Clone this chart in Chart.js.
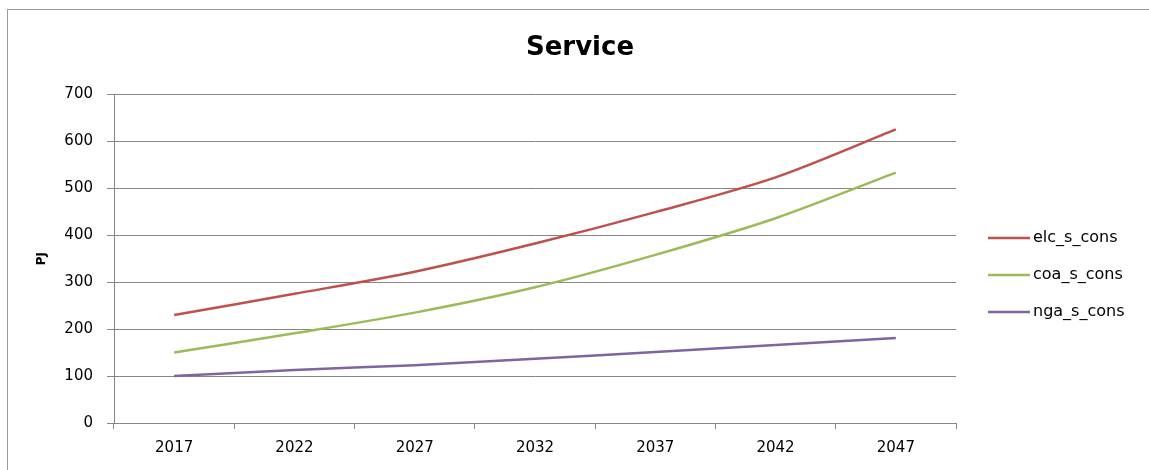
<!DOCTYPE html>
<html>
<head>
<meta charset="utf-8">
<title>Service</title>
<script src="https://cdn.jsdelivr.net/npm/chart.js@4/dist/chart.umd.min.js"></script>
<style>
  html, body { margin: 0; padding: 0; background: #fff; overflow: hidden; }
  #wrap { position: relative; width: 1149px; height: 470px; }
  #frame {
    position: absolute; left: 7px; top: 9px; width: 1200px; height: 520px;
    border: 1px solid #9a9a9a; box-sizing: border-box;
  }
  #chart { position: absolute; left: 0; top: 0; }
</style>
</head>
<body>
<div id="wrap">
  <div id="frame"></div>
  <canvas id="chart" width="1149" height="470"></canvas>
</div>
<script>
  'use strict';

  var years = ['2017', '2022', '2027', '2032', '2037', '2042', '2047'];
  var elcCons = [230, 275, 322, 382, 449, 523, 625];
  var coaCons = [150, 191, 235, 289, 358, 436, 533];
  var ngaCons = [100, 113, 123, 137, 151, 166, 181];
  var seriesNames = ['elc_s_cons', 'coa_s_cons', 'nga_s_cons'];
  var seriesColors = ['#c0504d', '#9bbb59', '#8064a2'];
  var yTicks = [0, 100, 200, 300, 400, 500, 600, 700];

  var gridColor = '#868686';
  var fontFamily = '"DejaVu Sans", sans-serif';

  function line(i, values) {
    return {
      label: seriesNames[i],
      data: values,
      borderColor: seriesColors[i],
      backgroundColor: seriesColors[i],
      borderWidth: 2.5,
      pointRadius: 0,
      tension: 0.3,
      fill: false
    };
  }

  // legend on the right, drawn by hand so the spacing stays tight
  var sideLegend = {
    id: 'sideLegend',
    afterDraw: function(chart) {
      var ctx = chart.ctx;
      ctx.save();
      ctx.font = '16px ' + fontFamily;
      ctx.textBaseline = 'middle';
      ctx.fillStyle = '#000';
      chart.data.datasets.forEach(function(ds, i) {
        var y = 238 + i * 37;
        ctx.strokeStyle = ds.borderColor;
        ctx.lineWidth = 2.5;
        ctx.beginPath();
        ctx.moveTo(988, y);
        ctx.lineTo(1030, y);
        ctx.stroke();
        ctx.fillText(ds.label, 1033, y);
      });
      ctx.restore();
    }
  };

  new Chart(document.getElementById('chart'), {
    type: 'line',
    data: {
      labels: years,
      datasets: [line(0, elcCons), line(1, coaCons), line(2, ngaCons)]
    },
    options: {
      responsive: false,
      animation: false,
      layout: { padding: { left: 11, right: 0, top: 0, bottom: 0 } },
      plugins: {
        legend: { display: false },
        tooltip: { enabled: false },
        title: {
          display: true,
          text: 'Service',
          color: '#000',
          font: { family: fontFamily, size: 26, weight: 'bold', lineHeight: 1.2 },
          padding: { top: 33, bottom: 30 }
        }
      },
      scales: {
        x: {
          offset: true,
          afterFit: function(scale) { scale.height = 47; },
          grid: {
            offset: true,
            drawOnChartArea: false,
            drawTicks: true,
            tickLength: 6,
            color: gridColor
          },
          border: { display: true, color: gridColor, width: 1 },
          ticks: {
            color: '#000',
            padding: 10,
            maxRotation: 0,
            font: { family: fontFamily, size: 15 }
          }
        },
        y: {
          min: 0,
          max: 700,
          afterFit: function(scale) { scale.width = 103; },
          afterBuildTicks: function(scale) {
            scale.ticks = yTicks.map(function(v) { return { value: v }; });
          },
          grid: { color: gridColor, tickLength: 7, lineWidth: 1 },
          border: { display: true, color: gridColor, width: 1 },
          ticks: {
            color: '#000',
            padding: 14,
            font: { family: fontFamily, size: 15 }
          },
          title: {
            display: true,
            text: 'PJ',
            color: '#000',
            font: { family: fontFamily, size: 12, weight: 'bold' },
            padding: { top: 24, bottom: 0 }
          }
        },
        // empty axis that only reserves the space the legend sits in
        legendSpace: {
          type: 'linear',
          position: 'right',
          afterFit: function(scale) { scale.width = 193; },
          grid: { display: false },
          border: { display: false },
          ticks: { display: false }
        }
      }
    },
    plugins: [sideLegend]
  });
</script>
</body>
</html>
